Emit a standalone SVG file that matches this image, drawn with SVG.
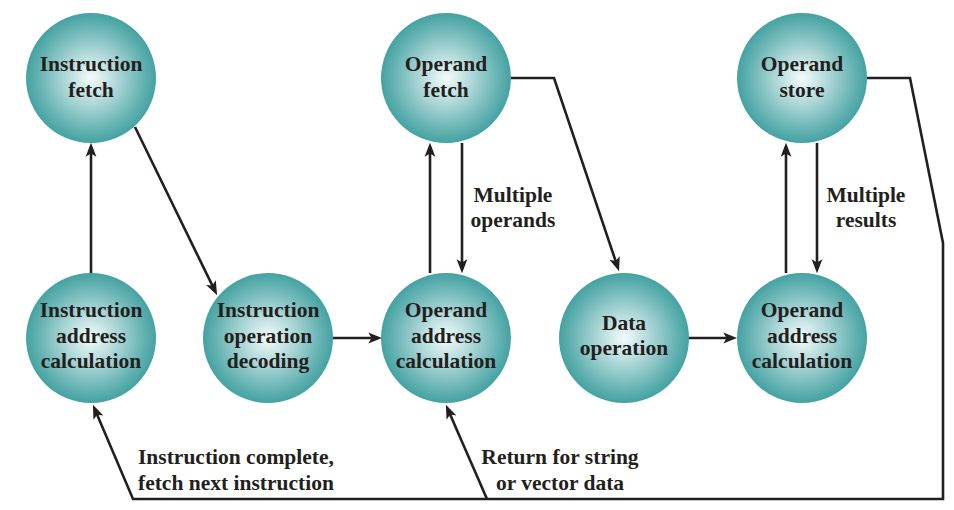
<svg xmlns="http://www.w3.org/2000/svg" width="954" height="510" viewBox="0 0 954 510">
<style>
.node circle{fill:url(#ball);}
text{font-family:"Liberation Serif","Times New Roman",serif;font-weight:bold;font-size:21.5px;fill:#231f20;}
.node text{text-anchor:middle;}
.edge{fill:none;stroke:#231f20;stroke-width:2.6;stroke-linejoin:miter;}
.arr{marker-end:url(#ah);}
</style>
<defs>
<radialGradient id="ball" cx="0.5" cy="0.5" r="0.5">
<stop offset="0" stop-color="#f4fbfb"/>
<stop offset="0.45" stop-color="#a6d3d3"/>
<stop offset="0.8" stop-color="#66b3b3"/>
<stop offset="1" stop-color="#45a2a2"/>
</radialGradient>
<marker id="ah" markerUnits="userSpaceOnUse" markerWidth="14" markerHeight="12" refX="9" refY="5" orient="auto" viewBox="0 0 13 10">
<path d="M0,0 L13,5 L0,10 L3,5 z" fill="#231f20"/>
</marker>
</defs>

<g id="connectors">
<line class="edge arr" x1="91" y1="273" x2="91" y2="147"/>
<line class="edge arr" x1="135" y1="127" x2="215.2" y2="291.4"/>
<line class="edge arr" x1="333" y1="338" x2="378" y2="338"/>
<line class="edge arr" x1="430" y1="273" x2="430" y2="147"/>
<line class="edge arr" x1="462" y1="143" x2="462" y2="269"/>
<polyline class="edge arr" points="511,78 554,78 617.7,267.2"/>
<line class="edge arr" x1="688" y1="338" x2="733" y2="338"/>
<line class="edge arr" x1="786" y1="273" x2="786" y2="147"/>
<line class="edge arr" x1="817" y1="143" x2="817" y2="269"/>
<polyline class="edge arr" points="867,78 910,78 943,243 943,499 133,499 94.6,408.7"/>
<line class="edge arr" x1="487" y1="499" x2="447.6" y2="408.7"/>
</g>

<g id="n-ifetch" class="node"><circle cx="91" cy="78" r="65"/><text x="91" y="71">Instruction</text><text x="91" y="97">fetch</text></g>
<g id="n-ofetch" class="node"><circle cx="446" cy="78" r="65"/><text x="446" y="71">Operand</text><text x="446" y="97">fetch</text></g>
<g id="n-ostore" class="node"><circle cx="802" cy="78" r="65"/><text x="802" y="71">Operand</text><text x="802" y="97">store</text></g>
<g id="n-iaddr" class="node"><circle cx="91" cy="338" r="65"/><text x="91" y="317">Instruction</text><text x="91" y="343">address</text><text x="91" y="368">calculation</text></g>
<g id="n-idec" class="node"><circle cx="268" cy="338" r="65"/><text x="268" y="317">Instruction</text><text x="268" y="343">operation</text><text x="268" y="368">decoding</text></g>
<g id="n-oaddr1" class="node"><circle cx="446" cy="338" r="65"/><text x="446" y="317">Operand</text><text x="446" y="343">address</text><text x="446" y="368">calculation</text></g>
<g id="n-data" class="node"><circle cx="624" cy="338" r="65"/><text x="624" y="330">Data</text><text x="624" y="355">operation</text></g>
<g id="n-oaddr2" class="node"><circle cx="802" cy="338" r="65"/><text x="802" y="317">Operand</text><text x="802" y="343">address</text><text x="802" y="368">calculation</text></g>

<g id="labels">
<text x="513" y="202" text-anchor="middle">Multiple</text>
<text x="513" y="227" text-anchor="middle">operands</text>
<text x="866" y="202" text-anchor="middle">Multiple</text>
<text x="866" y="227" text-anchor="middle">results</text>
<text x="138" y="464">Instruction complete,</text>
<text x="138" y="490">fetch next instruction</text>
<text x="560" y="464" text-anchor="middle">Return for string</text>
<text x="560" y="490" text-anchor="middle">or vector data</text>
</g>
</svg>
